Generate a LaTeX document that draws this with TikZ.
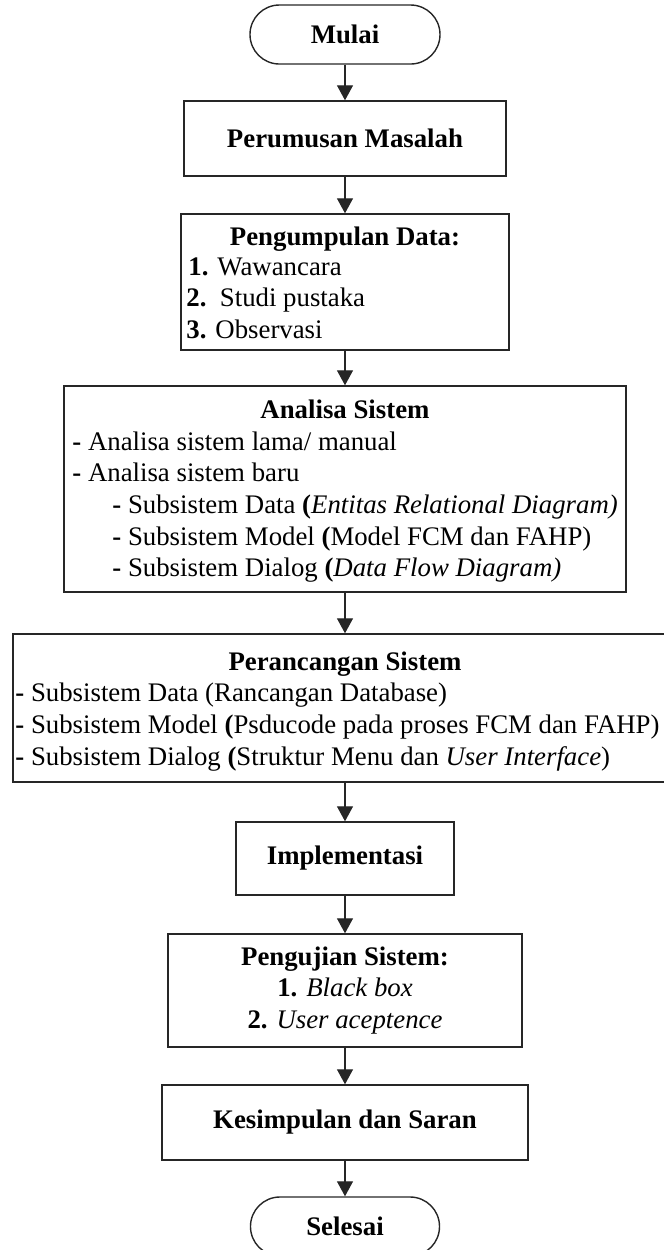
\documentclass[tikz,border=0pt]{standalone}
\usepackage{fontspec}
\setmainfont{Liberation Serif}
\usetikzlibrary{arrows.meta}

\begin{document}
\begin{tikzpicture}[x=0.5pt,y=-0.5pt,
  frame/.style={draw=black!85, line width=0.7pt, inner sep=0pt},
  terminal/.style={frame, rounded corners=14.7pt},
  flow/.style={draw=black!85, line width=0.6pt, -{Triangle[length=7.5pt,width=8pt]}},
  headfont/.style={font=\fontsize{13.4}{16}\selectfont\bfseries},
  head/.style={headfont, inner sep=0pt, anchor=base},
  item/.style={font=\fontsize{13.4}{16}\selectfont, inner sep=0pt, anchor=base west},
  citem/.style={font=\fontsize{13.4}{16}\selectfont, inner sep=0pt, anchor=base},
]
\useasboundingbox (0,0) rectangle (664,1250);

% start terminal
\node[terminal, headfont, minimum width=95pt, minimum height=29.5pt] (mulai) at (345,34.5) {Mulai};

% problem statement
\node[frame, headfont, minimum width=161pt, minimum height=37.5pt] (rumus) at (345,138.5) {Perumusan Masalah};

% data collection
\node[frame, minimum width=164pt, minimum height=68pt] (kumpul) at (345,282) {};
\node[head] (kumpulT) at (345,245) {Pengumpulan Data:};
\node[item] (k1) at (188,275) {\textbf{1.} Wawancara};
\node[item] (k2) at (186,306) {\textbf{2.}\ \ Studi pustaka};
\node[item] (k3) at (186,338) {\textbf{3.} Observasi};

% system analysis
\node[frame, minimum width=281pt, minimum height=103pt] (analisa) at (345,489) {};
\node[head] (analisaT) at (345,418) {Analisa Sistem};
\node[item] (a1) at (72,450) {\textbf{-} Analisa sistem lama/ manual};
\node[item] (a2) at (72,481) {\textbf{-} Analisa sistem baru};
\node[item] (a3) at (112,513) {\textbf{-} Subsistem Data \textbf{(}\textit{Entitas Relational Diagram)}};
\node[item] (a4) at (112,545) {\textbf{-} Subsistem Model \textbf{(}Model FCM dan FAHP)};
\node[item] (a5) at (112,576) {\textbf{-} Subsistem Dialog \textbf{(}\textit{Data Flow Diagram)}};

% system design (right edge runs past the page)
\node[frame, minimum width=332pt, minimum height=74pt] (rancang) at (345,708) {};
\node[head] (rancangT) at (345,670) {Perancangan Sistem};
\node[item] (r1) at (15,701) {\textbf{-} Subsistem Data (Rancangan Database)};
\node[item] (r2) at (15,733) {\textbf{-} Subsistem Model \textbf{(}Psducode pada proses FCM dan FAHP)};
\node[item] (r3) at (15,765) {\textbf{-} Subsistem Dialog \textbf{(}Struktur Menu dan \textit{User Interface})};

% implementation
\node[frame, headfont, minimum width=109pt, minimum height=36.5pt] (impl) at (345,858.5) {Implementasi};

% system testing
\node[frame, minimum width=177pt, minimum height=56.5pt] (uji) at (345,990.5) {};
\node[head] (ujiT) at (345,965) {Pengujian Sistem:};
\node[citem] (u1) at (345,996) {\textbf{1.} \textit{Black box}};
\node[citem] (u2) at (345,1028) {\textbf{2.} \textit{User aceptence}};

% conclusion
\node[frame, headfont, minimum width=183pt, minimum height=37.5pt] (simpul) at (345,1122.5) {Kesimpulan dan Saran};

% end terminal
\node[terminal, headfont, minimum width=94.5pt, minimum height=29.5pt] (selesai) at (345,1226.5) {Selesai};

% flow
\draw[flow] (mulai.south) -- (rumus.north);
\draw[flow] (rumus.south) -- (kumpul.north);
\draw[flow] (kumpul.south) -- (analisa.north);
\draw[flow] (analisa.south) -- (rancang.north);
\draw[flow] (rancang.south) -- (impl.north);
\draw[flow] (impl.south) -- (uji.north);
\draw[flow] (uji.south) -- (simpul.north);
\draw[flow] (simpul.south) -- (selesai.north);
\end{tikzpicture}
\end{document}
